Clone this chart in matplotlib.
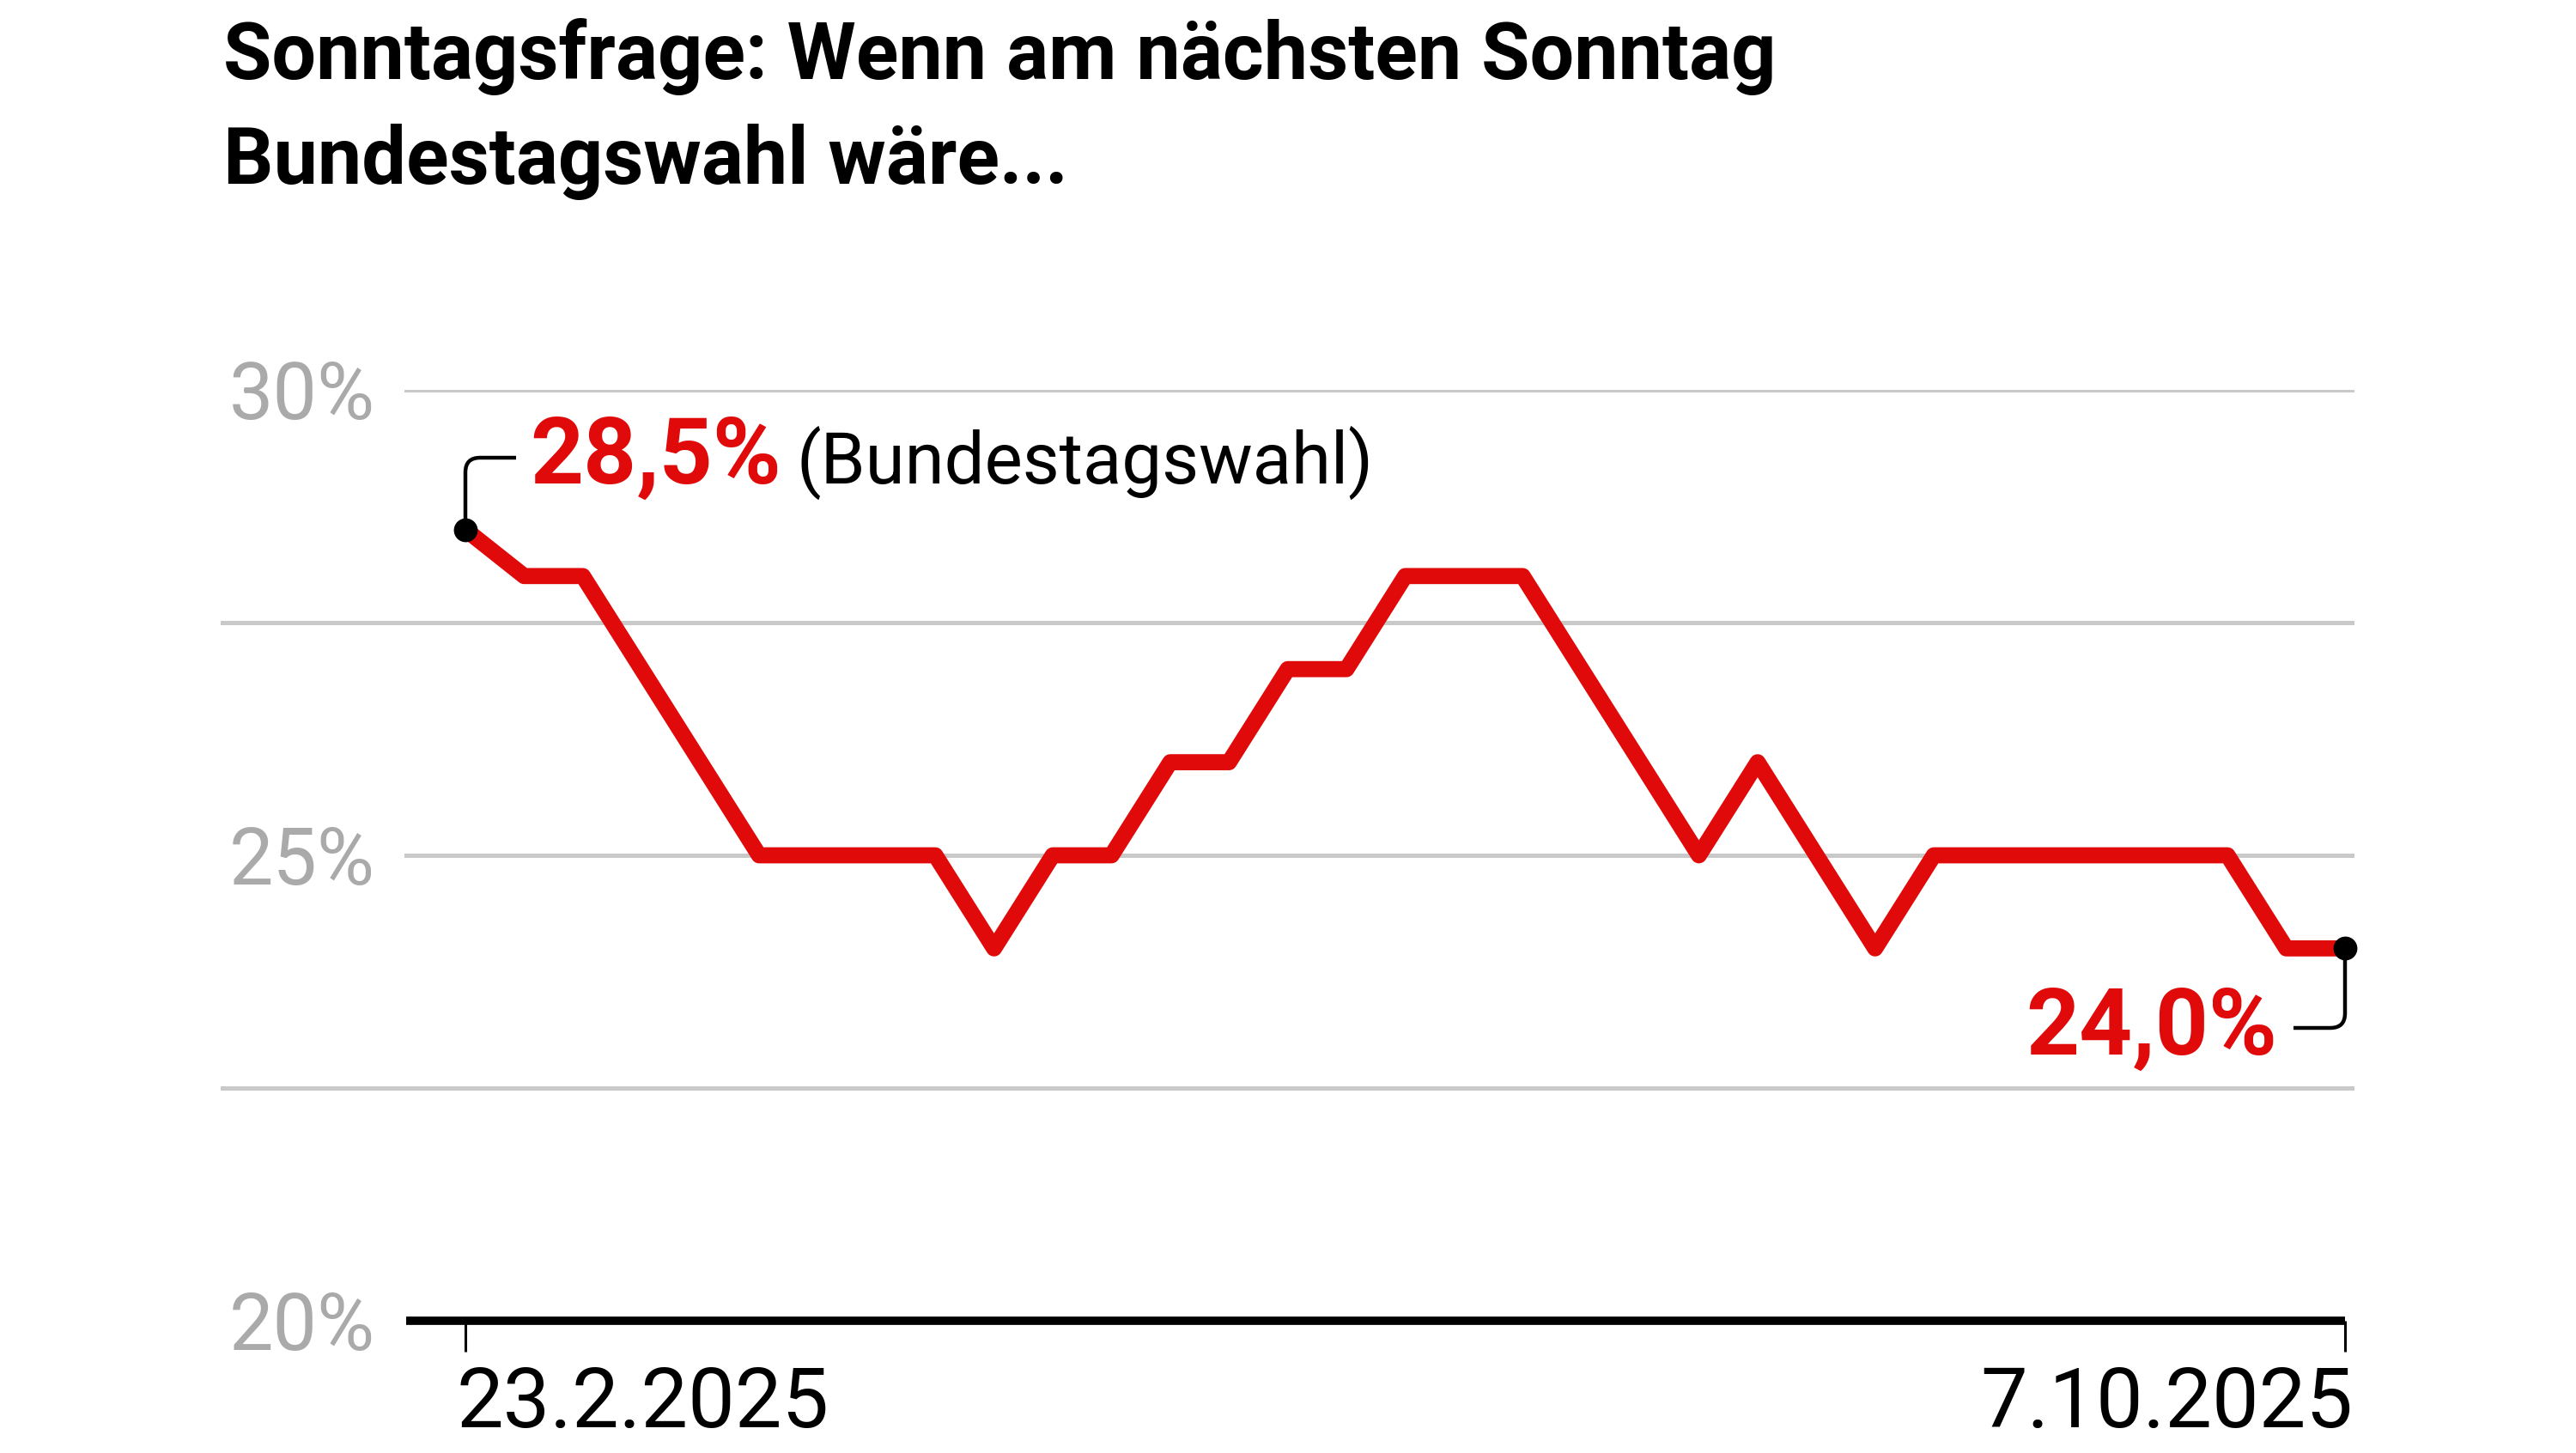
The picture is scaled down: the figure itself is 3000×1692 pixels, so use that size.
import matplotlib.pyplot as plt
from matplotlib.path import Path
from matplotlib.patches import PathPatch

# Umfragewerte (Prozent), eine Erhebung pro Schritt
werte = [28.5, 28.0, 28.0, 27.0, 26.0, 25.0, 25.0, 25.0, 25.0, 24.0, 25.0,
         25.0, 26.0, 26.0, 27.0, 27.0, 28.0, 28.0, 28.0, 27.0, 26.0, 25.0,
         26.0, 25.0, 24.0, 25.0, 25.0, 25.0, 25.0, 25.0, 25.0, 24.0, 24.0]
datum_labels = ["23.2.2025", "7.10.2025"]
y_ticks = [20, 22.5, 25, 27.5, 30]
y_labels = {20: "20%", 25: "25%", 30: "30%"}
titel = ["Sonntagsfrage: Wenn am nächsten Sonntag", "Bundestagswahl wäre..."]
start_label = "28,5%"
start_zusatz = "(Bundestagswahl)"
end_label = "24,0%"

ROT = "#e10a0a"
GRAU = "#aaaaaa"
GRID = "#c9c9c9"
FONT = "Roboto"

W, H = 3000, 1692
fig = plt.figure(figsize=(W / 100, H / 100), dpi=100)

def fx(px):
    return px / W

def fy(py):
    return (H - py) / H

# Achsenbereich in Pixeln
ax_l, ax_r = 257, 2742
y20_px, y30_px = 1538, 454
ax = fig.add_axes([fx(ax_l), fy(y20_px), (ax_r - ax_l) / W, (y20_px - y30_px) / H])

x = list(range(len(werte)))
x0_px, x1_px = 542, 2731
ppu = (x1_px - x0_px) / (len(werte) - 1)
xlo = (ax_l - x0_px) / ppu
xhi = (ax_r - x0_px) / ppu
ax.set_xlim(xlo, xhi)
ax.set_ylim(20, 30)
ax.axis("off")

def frac(xd):
    return (xd - xlo) / (xhi - xlo)

lab_start = (473 - ax_l) / (ax_r - ax_l)

for t in y_ticks[1:]:
    xmin = lab_start if t in y_labels else 0
    ax.axhline(t, xmin=xmin, xmax=1, color=GRID, lw=3.6, zorder=1)

# Grundlinie mit Ticks
ax.axhline(20, xmin=lab_start, xmax=frac(x[-1]), color="black", lw=7, zorder=3,
           solid_capstyle="butt", clip_on=False)
tick_len = 36 / ((y20_px - y30_px) / 10)
for xi in (x[0], x[-1]):
    ax.plot([xi, xi], [20, 20 - tick_len], color="black", lw=2.2,
            clip_on=False, zorder=3, solid_capstyle="butt")

# Y-Beschriftungen
for t, s in y_labels.items():
    py = y20_px - (t - 20) / 10 * (y20_px - y30_px)
    fig.text(fx(437), fy(py + 34), s, ha="right", va="baseline", fontsize=66,
             color=GRAU, family=FONT)

# X-Beschriftungen
fig.text(fx(532), fy(1662), datum_labels[0], ha="left", va="baseline",
         fontsize=70, family=FONT, color="black")
fig.text(fx(2740), fy(1662), datum_labels[1], ha="right", va="baseline",
         fontsize=70, family=FONT, color="black")

# Linie
ax.plot(x, werte, color=ROT, lw=13.5, solid_joinstyle="round", solid_capstyle="butt",
        zorder=4, clip_on=False)
ax.plot([x[0], x[-1]], [werte[0], werte[-1]], "o", color="black", ms=19, zorder=5,
        clip_on=False)

# Verbindungslinien der Beschriftungen (in Pixeln)
def bracket(pts):
    codes = [Path.MOVETO, Path.LINETO, Path.CURVE3, Path.CURVE3, Path.LINETO]
    verts = [(fx(a), fy(b)) for a, b in pts]
    fig.add_artist(PathPatch(Path(verts, codes), transform=fig.transFigure, fill=False,
                             edgecolor="black", lw=3.2, zorder=6))

sx, sy = 542, 617
bracket([(sx, sy), (sx, 550), (sx, 533), (sx + 17, 533), (601, 533)])
ex, ey = 2731, 1105
bracket([(ex, ey), (ex, 1180), (ex, 1197), (ex - 17, 1197), (2671, 1197)])

t1 = fig.text(fx(617), fy(563), start_label, color=ROT, fontsize=78, family=FONT,
              fontweight="bold", ha="left", va="baseline")
fig.canvas.draw()
bb = t1.get_window_extent()
fig.text(fx(bb.x1 + 18), fy(563), start_zusatz, color="black", fontsize=60, family=FONT,
         ha="left", va="baseline")
fig.text(fx(2652), fy(1228), end_label, color=ROT, fontsize=78, family=FONT,
         fontweight="bold", ha="right", va="baseline")

# Titel
fig.text(fx(260), fy(92), titel[0], fontsize=66, family=FONT, fontweight="bold",
         ha="left", va="baseline")
fig.text(fx(260), fy(214), titel[1], fontsize=66, family=FONT, fontweight="bold",
         ha="left", va="baseline")

fig.savefig("out.png", dpi=100, facecolor="white")
